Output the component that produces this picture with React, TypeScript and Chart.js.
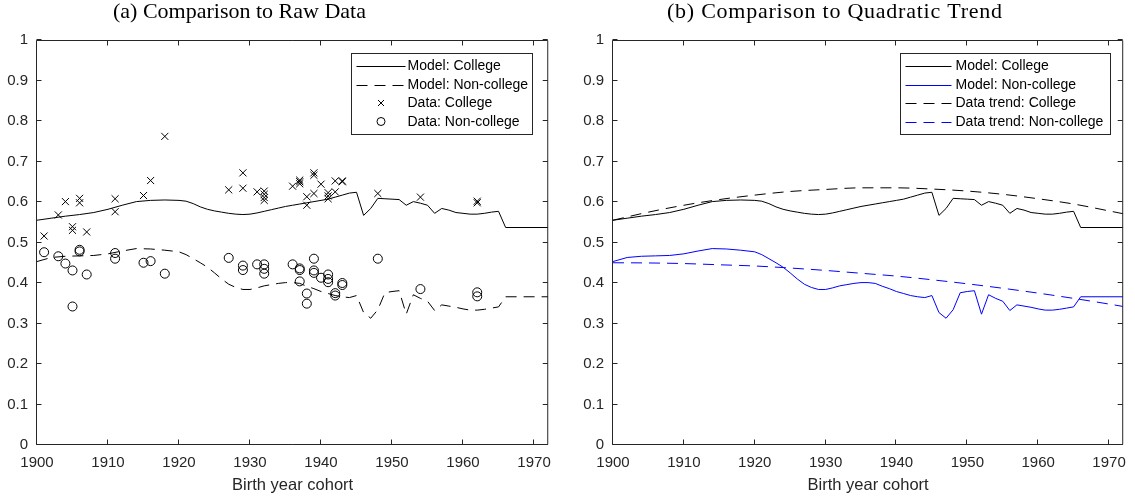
import React, { useEffect, useRef } from "react";
import { Chart, registerables } from "chart.js";

Chart.register(...registerables);

const AXIS = "#262626";
const SANS = "'Liberation Sans', Arial, Helvetica, sans-serif";
const SERIF = "'Liberation Serif', 'Times New Roman', serif";

const panelTitles = ["(a) Comparison to Raw Data", "(b) Comparison to Quadratic Trend"];
const xAxisTitle = "Birth year cohort";

// Model simulated shares by birth cohort
const modelYears = [
  1900, 1902, 1904, 1906, 1908, 1910, 1912, 1914, 1916, 1918, 1920,
  1921, 1922, 1923, 1924, 1925, 1926, 1927, 1928, 1929, 1930,
  1931, 1932, 1933, 1934, 1935, 1936, 1937, 1938, 1939, 1940,
  1941, 1942, 1943, 1944, 1945, 1946, 1947, 1948, 1949, 1950,
  1951, 1952, 1953, 1954, 1955, 1956, 1957, 1958, 1959, 1960,
  1961, 1962, 1963, 1964, 1965, 1966, 1972,
];
const modelCollege = [
  0.555, 0.56, 0.565, 0.569, 0.574, 0.582, 0.592, 0.601, 0.604, 0.605, 0.604,
  0.602, 0.596, 0.588, 0.582, 0.578, 0.575, 0.572, 0.57, 0.569, 0.57,
  0.573, 0.577, 0.581, 0.585, 0.589, 0.592, 0.595, 0.598, 0.601, 0.604,
  0.607, 0.612, 0.617, 0.622, 0.624, 0.567, 0.584, 0.609, 0.608, 0.607,
  0.606, 0.592, 0.601, 0.597, 0.592, 0.572, 0.584, 0.58, 0.574, 0.572,
  0.57, 0.57, 0.572, 0.575, 0.577, 0.537, 0.537,
];
const modelNonCollege = [
  0.453, 0.463, 0.466, 0.467, 0.468, 0.472, 0.479, 0.485, 0.484, 0.481, 0.477,
  0.47, 0.46, 0.45, 0.439, 0.425, 0.41, 0.397, 0.389, 0.384, 0.384,
  0.388, 0.393, 0.396, 0.399, 0.401, 0.401, 0.399, 0.392, 0.386, 0.379,
  0.374, 0.369, 0.366, 0.364, 0.369, 0.327, 0.313, 0.334, 0.376, 0.379,
  0.381, 0.323, 0.371, 0.362, 0.355, 0.332, 0.346, 0.343, 0.34, 0.336,
  0.333, 0.333, 0.335, 0.338, 0.341, 0.366, 0.366,
];

// Raw data points
const collegeDataYears = [
  1901, 1903, 1904, 1905, 1905, 1906, 1906, 1907, 1911, 1911, 1915, 1916, 1918, 1927,
  1929, 1929, 1931, 1932, 1932, 1932, 1932, 1936, 1937, 1937, 1937, 1938, 1938, 1939,
  1939, 1939, 1940, 1941, 1941, 1941, 1942, 1942, 1943, 1943, 1948, 1954, 1962, 1962,
];
const collegeDataValues = [
  0.516, 0.568, 0.601, 0.539, 0.53, 0.609, 0.598, 0.526, 0.608, 0.576, 0.616, 0.653, 0.762, 0.63,
  0.672, 0.634, 0.625, 0.627, 0.619, 0.611, 0.604, 0.639, 0.645, 0.65, 0.654, 0.613, 0.592, 0.672,
  0.666, 0.621, 0.644, 0.623, 0.615, 0.608, 0.652, 0.625, 0.652, 0.65, 0.621, 0.612, 0.602, 0.598,
];
const nonCollegeDataYears = [
  1901, 1903, 1904, 1905, 1905, 1906, 1906, 1907, 1911, 1911, 1915, 1916, 1918, 1927,
  1929, 1929, 1931, 1932, 1932, 1932, 1936, 1937, 1937, 1937, 1938, 1938, 1939, 1939,
  1939, 1940, 1941, 1941, 1941, 1942, 1942, 1943, 1943, 1948, 1954, 1962, 1962,
];
const nonCollegeDataValues = [
  0.476, 0.466, 0.448, 0.431, 0.342, 0.482, 0.478, 0.421, 0.474, 0.46, 0.45, 0.454, 0.423, 0.462,
  0.443, 0.432, 0.446, 0.446, 0.435, 0.423, 0.446, 0.436, 0.432, 0.404, 0.374, 0.349, 0.46, 0.431,
  0.425, 0.413, 0.421, 0.41, 0.402, 0.375, 0.369, 0.4, 0.395, 0.46, 0.385, 0.377, 0.367,
];

// Quadratic trends of the data
const trendYears = [1900, 1905, 1910, 1915, 1920, 1925, 1930, 1935, 1940, 1945, 1950, 1955, 1960, 1965, 1970, 1972];
const trendCollege = [0.555, 0.575, 0.592, 0.606, 0.617, 0.626, 0.631, 0.635, 0.635, 0.632, 0.627, 0.619, 0.608, 0.595, 0.578, 0.571];
const trendNonCollege = [0.45, 0.4495, 0.448, 0.445, 0.442, 0.437, 0.431, 0.424, 0.417, 0.408, 0.398, 0.387, 0.375, 0.362, 0.348, 0.342];

const pts = (xs: number[], ys: number[]) => xs.map((x, i) => ({ x, y: ys[i] }));

const DASH = [11, 7];
const BLUE = "#0000ff";

type PanelCfg = {
  title: string;
  titleCenter: number;
  titleWidth: number;
  yWidth: number;
  legend: { rightInset: number; width: number; sampleLen: number; textStart: number };
};

const panelCfgs: PanelCfg[] = [
  { title: panelTitles[0], titleCenter: 239, titleWidth: 252, yWidth: 37, legend: { rightInset: 16, width: 181, sampleLen: 49, textStart: 56 } },
  { title: panelTitles[1], titleCenter: 259.5, titleWidth: 335, yWidth: 38, legend: { rightInset: 13, width: 210, sampleLen: 46, textStart: 55 } },
];

const framePlugin = {
  id: "frameTicks",
  afterDatasetsDraw(chart: any) {
    const { ctx, chartArea: a, scales } = chart;
    const x0 = a.left - 0.5;
    const x1 = a.right - 0.5;
    const y0 = a.top + 0.5;
    const y1 = a.bottom - 0.5;
    ctx.save();
    ctx.strokeStyle = AXIS;
    ctx.lineWidth = 1;
    ctx.setLineDash([]);
    ctx.beginPath();
    ctx.rect(x0, y0, x1 - x0, y1 - y0);
    for (const t of scales.x.ticks) {
      const px = Math.round(scales.x.getPixelForValue(t.value)) - 0.5;
      ctx.moveTo(px, y1);
      ctx.lineTo(px, y1 - 5);
      ctx.moveTo(px, y0);
      ctx.lineTo(px, y0 + 5);
    }
    for (const t of scales.y.ticks) {
      const py = Math.round(scales.y.getPixelForValue(t.value)) - 0.5;
      ctx.moveTo(x0, py);
      ctx.lineTo(x0 + 5, py);
      ctx.moveTo(x1, py);
      ctx.lineTo(x1 - 5, py);
    }
    ctx.stroke();
    ctx.restore();
  },
};

const overlayPlugin = {
  id: "overlay",
  afterDraw(chart: any, _args: any, opts: any) {
    const cfg: PanelCfg = opts.cfg;
    const { ctx, chartArea: a } = chart;
    ctx.save();
    // title
    ctx.font = `22px ${SERIF}`;
    ctx.fillStyle = "#000";
    ctx.textAlign = "left";
    ctx.textBaseline = "alphabetic";
    (ctx as any).letterSpacing = "0px";
    const w = ctx.measureText(cfg.title).width;
    const n = cfg.title.length;
    const sp = Math.max(0, (cfg.titleWidth - w) / (n - 1));
    (ctx as any).letterSpacing = `${sp}px`;
    ctx.fillText(cfg.title, cfg.titleCenter - cfg.titleWidth / 2, 18);
    (ctx as any).letterSpacing = "0px";

    // legend
    const L = cfg.legend;
    const bx = Math.round(a.right - L.rightInset - L.width) + 0.5;
    const by = 53.5;
    const bh = 81;
    ctx.fillStyle = "#fff";
    ctx.fillRect(bx, by, L.width, bh);
    ctx.strokeStyle = AXIS;
    ctx.lineWidth = 1;
    ctx.setLineDash([]);
    ctx.strokeRect(bx, by, L.width, bh);
    const datasets = chart.data.datasets;
    ctx.font = `14px ${SANS}`;
    ctx.textBaseline = "middle";
    datasets.forEach((ds: any, i: number) => {
      const cy = by + 12.5 + i * 18.5;
      const sx = bx + 5;
      const col = ds.legendColor || ds.borderColor || "#000";
      if (ds.showLine) {
        ctx.save();
        ctx.strokeStyle = col;
        ctx.lineWidth = 1;
        ctx.setLineDash(ds.borderDash || []);
        ctx.beginPath();
        ctx.moveTo(sx, Math.round(cy) + 0.5);
        ctx.lineTo(sx + L.sampleLen, Math.round(cy) + 0.5);
        ctx.stroke();
        ctx.restore();
      } else {
        const mx = sx + L.sampleLen / 2;
        ctx.save();
        ctx.strokeStyle = col;
        ctx.lineWidth = 1;
        ctx.beginPath();
        if (ds.pointStyle === "crossRot") {
          ctx.moveTo(mx - 3, cy - 3);
          ctx.lineTo(mx + 3, cy + 3);
          ctx.moveTo(mx + 3, cy - 3);
          ctx.lineTo(mx - 3, cy + 3);
        } else {
          ctx.arc(mx, cy, 4, 0, Math.PI * 2);
        }
        ctx.stroke();
        ctx.restore();
      }
      ctx.fillStyle = "#000";
      ctx.fillText(ds.label, bx + L.textStart, cy + 0.5);
    });
    ctx.restore();
  },
};

function makeDatasets(panel: number) {
  const line = (label: string, xs: number[], ys: number[], color: string, dash: number[] | null, smooth = false) => ({
    label,
    data: pts(xs, ys),
    showLine: true,
    borderColor: color,
    legendColor: color,
    backgroundColor: color,
    borderWidth: 1,
    borderDash: dash || [],
    pointRadius: 0,
    pointHoverRadius: 0,
    fill: false,
    tension: 0,
    cubicInterpolationMode: smooth ? "monotone" : "default",
  });
  if (panel === 0) {
    return [
      line("Model: College", modelYears, modelCollege, "#000", null),
      line("Model: Non-college", modelYears, modelNonCollege, "#000", DASH),
      {
        label: "Data: College",
        data: pts(collegeDataYears, collegeDataValues),
        showLine: false,
        pointStyle: "crossRot",
        pointRadius: 5,
        pointBorderWidth: 1,
        borderColor: "#000",
        legendColor: "#000",
        pointBorderColor: "#000",
        backgroundColor: "rgba(0,0,0,0)",
      },
      {
        label: "Data: Non-college",
        data: pts(nonCollegeDataYears, nonCollegeDataValues),
        showLine: false,
        pointStyle: "circle",
        pointRadius: 4.5,
        pointBorderWidth: 1,
        borderColor: "#000",
        legendColor: "#000",
        pointBorderColor: "#000",
        backgroundColor: "rgba(0,0,0,0)",
        pointBackgroundColor: "rgba(0,0,0,0)",
      },
    ];
  }
  return [
    line("Model: College", modelYears, modelCollege, "#000", null),
    line("Model: Non-college", modelYears, modelNonCollege, BLUE, null),
    line("Data trend: College", trendYears, trendCollege, "#000", DASH, true),
    line("Data trend: Non-college", trendYears, trendNonCollege, BLUE, DASH, true),
  ];
}

function Panel({ panel, left }: { panel: number; left: number }) {
  const ref = useRef<HTMLCanvasElement | null>(null);
  useEffect(() => {
    if (!ref.current) return;
    const cfg = panelCfgs[panel];
    const tickFont = { family: SANS, size: 15 };
    const labelFont = { family: SANS, size: 16.5 };
    const chart = new Chart(ref.current, {
      type: "scatter",
      data: { datasets: makeDatasets(panel) as any },
      options: {
        responsive: false,
        maintainAspectRatio: false,
        animation: false,
        devicePixelRatio: 1,
        events: [],
        layout: { padding: { top: 40, right: 10, left: 0, bottom: 0 } },
        plugins: {
          legend: { display: false },
          tooltip: { enabled: false },
          title: { display: false },
          overlay: { cfg },
        } as any,
        scales: {
          x: {
            type: "linear",
            min: 1900,
            max: 1972,
            afterFit: (s: any) => {
              s.height = 54;
            },
            grid: { display: false, drawTicks: false },
            border: { display: false },
            ticks: {
              stepSize: 10,
              includeBounds: false,
              autoSkip: false,
              maxRotation: 0,
              minRotation: 0,
              padding: 9,
              color: AXIS,
              font: tickFont,
              callback: (v: any) => String(v),
            },
            title: {
              display: true,
              text: xAxisTitle,
              color: AXIS,
              font: labelFont,
              padding: { top: 0, bottom: 4 },
            },
          },
          y: {
            type: "linear",
            min: 0,
            max: 1,
            afterFit: (s: any) => {
              s.width = cfg.yWidth;
            },
            grid: { display: false, drawTicks: false },
            border: { display: false },
            ticks: {
              stepSize: 0.1,
              padding: 9,
              color: AXIS,
              font: tickFont,
              callback: (v: any) => String(Math.round(Number(v) * 10) / 10),
            },
          },
        },
      } as any,
      plugins: [framePlugin, overlayPlugin] as any,
    });
    return () => chart.destroy();
  }, [panel]);
  return (
    <canvas
      ref={ref}
      width={560}
      height={499}
      style={{ position: "absolute", left, top: 0, width: 560, height: 499 }}
    />
  );
}

export default function App() {
  return (
    <div style={{ position: "fixed", left: 0, top: 0, width: 1135, height: 499, background: "#fff" }}>
      <Panel panel={0} left={0} />
      <Panel panel={1} left={575} />
    </div>
  );
}
